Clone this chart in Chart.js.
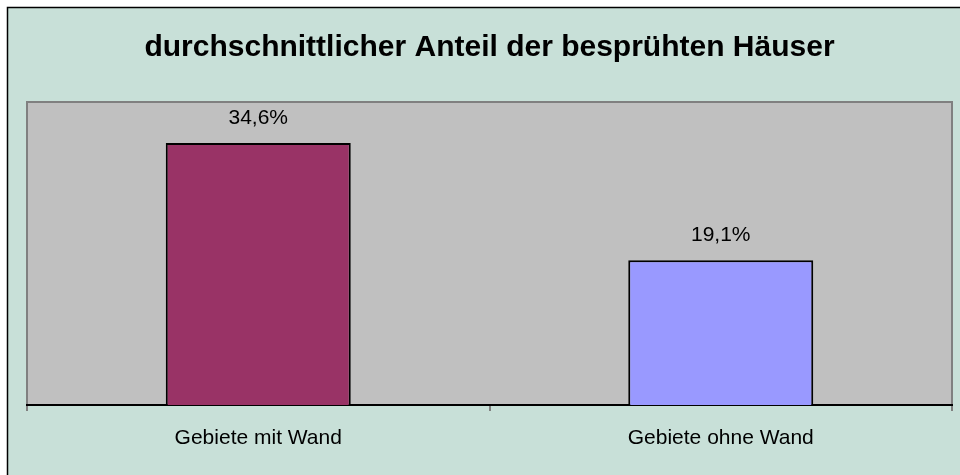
<!DOCTYPE html>
<html>
<head>
<meta charset="utf-8">
<title>durchschnittlicher Anteil der besprühten Häuser</title>
<script src="https://cdn.jsdelivr.net/npm/chart.js@4"></script>
<style>
  html, body { margin: 0; padding: 0; background: #fff; }
  #chart { display: block; }
</style>
</head>
<body>
<canvas id="chart" width="960" height="475"></canvas>
<script>
const categories = ["Gebiete mit Wand", "Gebiete ohne Wand"];
const shares = [34.6, 19.1];
const barColors = ["#993366", "#9999ff"];
const titleText = "durchschnittlicher Anteil der besprühten Häuser";

const frameBg = "#c8e0d8";
const plotBg = "#c0c0c0";

// background, outer frame and the grey plot area
const backgroundPlugin = {
  id: "background",
  beforeDraw(chart) {
    const ctx = chart.ctx;
    const area = chart.chartArea;
    ctx.save();
    ctx.fillStyle = "#fff";
    ctx.fillRect(0, 0, chart.width, chart.height);
    ctx.fillStyle = frameBg;
    ctx.fillRect(8, 8, chart.width, chart.height);
    ctx.strokeStyle = "#000";
    ctx.lineWidth = 1.5;
    ctx.strokeRect(7.5, 7.5, chart.width + 10, chart.height + 10);
    ctx.fillStyle = plotBg;
    ctx.fillRect(area.left, area.top, area.right - area.left, area.bottom - area.top);
    ctx.strokeStyle = "#808080";
    ctx.lineWidth = 2;
    ctx.strokeRect(area.left, area.top, area.right - area.left, area.bottom - area.top);
    ctx.restore();
  },
};

// value labels above the bars, German decimal comma
const valueLabelPlugin = {
  id: "valueLabels",
  afterDatasetsDraw(chart) {
    const ctx = chart.ctx;
    const meta = chart.getDatasetMeta(0);
    ctx.save();
    ctx.font = "21px 'Liberation Sans', Arial, sans-serif";
    ctx.fillStyle = "#000";
    ctx.textAlign = "center";
    ctx.textBaseline = "alphabetic";
    meta.data.forEach((bar, i) => {
      const text = shares[i].toFixed(1).replace(".", ",") + "%";
      ctx.fillText(text, bar.x, bar.y - 19);
    });
    ctx.restore();
  },
};

new Chart(document.getElementById("chart").getContext("2d"), {
  type: "bar",
  data: {
    labels: categories,
    datasets: [
      {
        data: shares,
        backgroundColor: barColors,
        borderColor: "#000",
        borderWidth: 2,
        barPercentage: 0.4,
        categoryPercentage: 1,
      },
    ],
  },
  options: {
    responsive: false,
    animation: false,
    devicePixelRatio: 1,
    layout: { padding: { top: 8, left: 27, right: 8, bottom: 0 } },
    plugins: {
      legend: { display: false },
      tooltip: { enabled: false },
      title: {
        display: true,
        text: titleText,
        color: "#000",
        font: { family: "'Liberation Sans', Arial, sans-serif", size: 30, weight: "bold" },
        padding: { top: 22, bottom: 36 },
      },
    },
    scales: {
      x: {
        grid: {
          display: true,
          drawOnChartArea: false,
          tickLength: 6,
          color: "#808080",
          lineWidth: 2,
        },
        border: { display: true, color: "#000", width: 2 },
        ticks: {
          color: "#000",
          padding: 15,
          font: { family: "'Liberation Sans', Arial, sans-serif", size: 21 },
        },
        afterFit(scale) {
          scale.height = 70;
        },
      },
      y: {
        display: false,
        min: 0,
        max: 40,
      },
    },
  },
  plugins: [backgroundPlugin, valueLabelPlugin],
});
</script>
</body>
</html>
